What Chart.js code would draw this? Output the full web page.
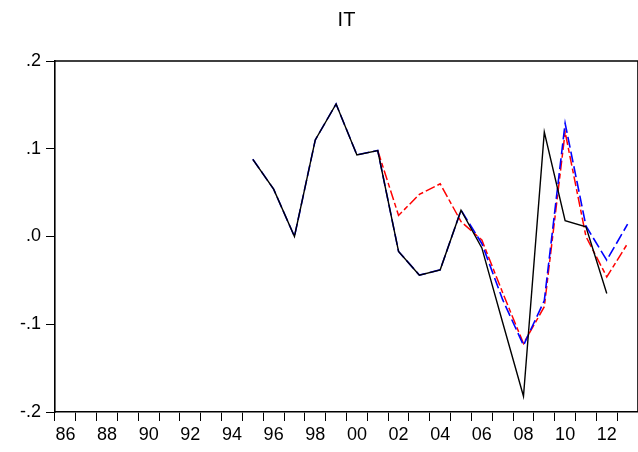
<!DOCTYPE html>
<html>
<head>
<meta charset="utf-8">
<script src="https://cdn.jsdelivr.net/npm/chart.js@4/dist/chart.umd.min.js"></script>
<style>
  html, body { margin: 0; padding: 0; background: #fff; }
  #wrap { width: 638px; height: 452px; }
</style>
</head>
<body>
<div id="wrap"><canvas id="chart1" width="638" height="452"></canvas></div>
<script>
// data
var years = [1986, 1987, 1988, 1989, 1990, 1991, 1992, 1993, 1994, 1995,
             1996, 1997, 1998, 1999, 2000, 2001, 2002, 2003, 2004, 2005,
             2006, 2007, 2008, 2009, 2010, 2011, 2012, 2013];
var actual = [null, null, null, null, null, null, null, null, null, 0.088,
              0.054, 0.000, 0.110, 0.151, 0.093, 0.098, -0.017, -0.044, -0.038, 0.030,
              -0.013, -0.098, -0.182, 0.119, 0.018, 0.011, -0.065, null];
var fcastRed = [null, null, null, null, null, null, null, null, null, null,
                null, null, null, null, null, 0.098, 0.024, 0.048, 0.060, 0.017,
                -0.004, -0.064, -0.122, -0.080, 0.119, 0.000, -0.046, -0.008];
var fcastBlue = [null, null, null, null, null, null, null, null, null, 0.088,
                 0.054, 0.000, 0.110, 0.151, 0.093, 0.098, -0.017, -0.044, -0.038, 0.030,
                 -0.008, -0.072, -0.124, -0.073, 0.129, 0.012, -0.027, 0.014];
var yTicks = [-0.2, -0.1, 0.0, 0.1, 0.2];
var yTickLabels = ['-.2', '-.1', '.0', '.1', '.2'];
var titleText = 'IT';

var fontFam = '"Liberation Sans", Arial, sans-serif';

// frame on top of plot + title centred over the plot area
var framePlugin = {
  id: 'frame',
  afterDraw: function(chart) {
    var a = chart.chartArea, c = chart.ctx;
    c.save();
    c.strokeStyle = '#000';
    c.lineWidth = 1.6;
    c.beginPath();
    c.moveTo(a.left, a.top);
    c.lineTo(a.right, a.top);
    c.lineTo(a.right, a.bottom);
    c.stroke();
    c.fillStyle = '#000';
    c.font = '20px ' + fontFam;
    c.textAlign = 'center';
    c.textBaseline = 'middle';
    c.fillText(titleText, (a.left + a.right) / 2, 20);
    c.restore();
  }
};

var ctx = document.getElementById('chart1').getContext('2d');
var chart = new Chart(ctx, {
  type: 'line',
  data: {
    labels: years,
    datasets: [
      {
        data: actual,
        borderColor: '#000',
        borderWidth: 1.4,
        pointRadius: 0,
        tension: 0,
        order: 0
      },
      {
        data: fcastBlue,
        borderColor: '#0000ff',
        borderWidth: 1.6,
        borderDash: [11, 4],
        pointRadius: 0,
        tension: 0,
        order: 1
      },
      {
        data: fcastRed,
        borderColor: '#ff0000',
        borderWidth: 1.5,
        borderDash: [10, 3, 5, 3],
        pointRadius: 0,
        tension: 0,
        order: 2
      }
    ]
  },
  options: {
    responsive: false,
    animation: false,
    layout: { padding: { top: 61, right: -3, left: 0, bottom: 0 } },
    plugins: {
      legend: { display: false },
      title: { display: false },
      tooltip: { enabled: false }
    },
    scales: {
      x: {
        type: 'category',
        offset: true,
        grid: {
          offset: true,
          drawOnChartArea: false,
          drawTicks: true,
          tickLength: 9,
          color: '#000',
          lineWidth: 1
        },
        border: { display: true, color: '#000', width: 1.6 },
        ticks: {
          autoSkip: false,
          maxRotation: 0,
          padding: 3,
          color: '#000',
          font: { family: fontFam, size: 18 },
          callback: function(v, i) {
            return i % 2 === 0 ? String(years[i]).slice(2) : '';
          }
        },
        afterFit: function(s) { s.height = 40; }
      },
      y: {
        min: -0.2,
        max: 0.2,
        grid: {
          drawOnChartArea: false,
          drawTicks: true,
          tickLength: 9,
          color: '#000',
          lineWidth: 1
        },
        border: { display: true, color: '#000', width: 1.6 },
        afterBuildTicks: function(s) {
          s.ticks = yTicks.map(function(v) { return { value: v }; });
        },
        ticks: {
          padding: 5,
          color: '#000',
          font: { family: fontFam, size: 18 },
          callback: function(v, i) { return yTickLabels[i]; }
        },
        afterFit: function(s) { s.width = 55; }
      }
    }
  },
  plugins: [framePlugin]
});
</script>
</body>
</html>
